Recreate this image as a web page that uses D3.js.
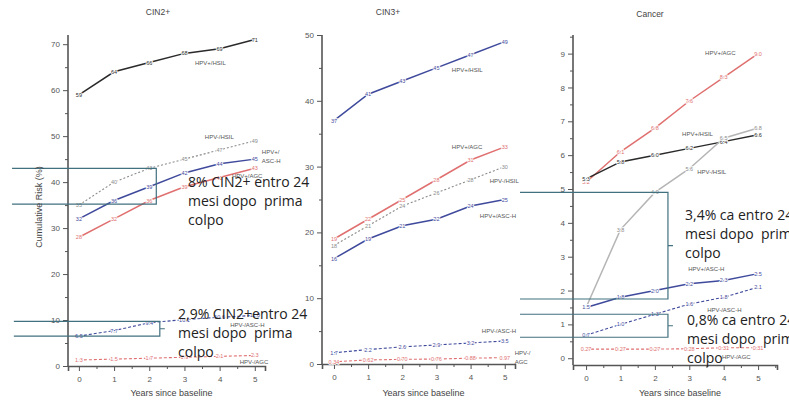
<!DOCTYPE html>
<html>
<head>
<meta charset="utf-8">
<script src="https://cdn.jsdelivr.net/npm/d3@7"></script>
<style>
  body { margin: 0; background: #fff; }
  svg { display: block; font-family: "Liberation Sans", Arial, sans-serif; }
  .note { font-family: "Open Sans", sans-serif; font-size: 14px; fill: #222; white-space: pre; }
</style>
</head>
<body>
<div id="chart"></div>
<script>
const years = [0, 1, 2, 3, 4, 5];

// CIN2+
const cin2PosHsil = [59, 64, 66, 68, 69, 71];
const cin2NegHsil = [35, 40, 43, 45, 47, 49];
const cin2PosAscH = [32, 36, 39, 42, 44, 45];
const cin2PosAgc  = [28, 32, 36, 39, 41, 43];
const cin2NegAscH = [6.5, 7.7, 9.4, 10.1, 10.6, 11.0];
const cin2NegAgc  = [1.3, 1.5, 1.7, 1.9, 2.1, 2.3];
const cin2Ticks = [0, 10, 20, 30, 40, 50, 60, 70];

// CIN3+
const cin3PosHsil = [37, 41, 43, 45, 47, 49];
const cin3PosAgc  = [19, 22, 25, 28, 31, 33];
const cin3NegHsil = [18, 21, 24, 26, 28, 30];
const cin3PosAscH = [16, 19, 21, 22, 24, 25];
const cin3NegAscH = [1.7, 2.2, 2.6, 2.9, 3.2, 3.5];
const cin3NegAgc  = [0.34, 0.62, 0.70, 0.76, 0.88, 0.97];
const cin3Ticks = [0, 10, 20, 30, 40, 50];

// Cancer
const cancPosAgc  = [5.2, 6.1, 6.8, 7.6, 8.3, 9.0];
const cancPosHsil = [5.3, 5.8, 6.0, 6.2, 6.4, 6.6];
const cancNegHsil = [1.5, 3.8, 4.9, 5.6, 6.5, 6.8];
const cancPosAscH = [1.5, 1.8, 2.0, 2.2, 2.3, 2.5];
const cancNegAscH = [0.68, 1.0, 1.3, 1.6, 1.8, 2.1];
const cancNegAgc  = [0.27, 0.27, 0.27, 0.28, 0.31, 0.31];
const cancTicks = [0, 1, 2, 3, 4, 5, 6, 7, 8, 9];

const BLACK = "#2a2a2a", BLUE = "#3f4a9c", RED = "#e07070", GREY = "#8a8a8a", LGREY = "#b5b5b5";
const NOTE = "#41707f";

const W = 789, H = 402;
const svg = d3.select("#chart").append("svg").attr("width", W).attr("height", H);

const panels = [
  {
    title: "CIN2+", titleX: 158, titleY: 15,
    x0: 68, x1: 265, xDom: [-0.31, 5.29],
    yDom: [0, 72], yRange: [366, 35], ticks: cin2Ticks, minor: 5,
    series: [
      { v: cin2PosHsil, color: BLACK, dash: null, dec: 0, name: ["HPV+/HSIL"], lx: 3.3, ly: 65.4 },
      { v: cin2NegHsil, color: GREY, dash: "2,2", dec: 0, name: ["HPV-/HSIL"], lx: 3.58, ly: 49.3 },
      { v: cin2PosAscH, color: BLUE, dash: null, dec: 0, name: ["HPV+/", "ASC-H"], lx: 5.2, ly: 46.1 },
      { v: cin2PosAgc, color: RED, dash: null, dec: 0, name: ["HPV+/AGC"], lx: 4.35, ly: 40.9 },
      { v: cin2NegAscH, color: BLUE, dash: "3,2", dec: 1, name: ["HPV-/ASC-H"], lx: 4.3, ly: 8.5 },
      { v: cin2NegAgc, color: RED, dash: "3,2", dec: 1, name: ["HPV-/AGC"], lx: 4.57, ly: 0.4 }
    ],
    boxes: [
      { hi: 43, lo: 35.2, left: -1.9, right: 2.2, tick: false },
      { hi: 9.7, lo: 6.5, left: -1.85, right: 2.3, tick: true }
    ],
    notes: [
      { x: 188, y: 187, lines: ["8% CIN2+ entro 24", "mesi dopo  prima", "colpo"] },
      { x: 178, y: 319, lines: ["2,9% CIN2+entro 24", "mesi dopo  prima", "colpo"] }
    ]
  },
  {
    title: "CIN3+", titleX: 388, titleY: 15,
    x0: 322, x1: 515, xDom: [-0.35, 5.3],
    yDom: [0, 50], yRange: [364, 35], ticks: cin3Ticks, minor: 5,
    series: [
      { v: cin3PosHsil, color: BLUE, dash: null, dec: 0, name: ["HPV+/HSIL"], lx: 3.45, ly: 44.4 },
      { v: cin3PosAgc, color: RED, dash: null, dec: 0, name: ["HPV+/AGC"], lx: 3.45, ly: 32.7 },
      { v: cin3NegHsil, color: GREY, dash: "2,2", dec: 0, name: ["HPV-/HSIL"], lx: 4.56, ly: 27.5 },
      { v: cin3PosAscH, color: BLUE, dash: null, dec: 0, name: ["HPV+/ASC-H"], lx: 4.27, ly: 22.2 },
      { v: cin3NegAscH, color: BLUE, dash: "3,2", dec: 1, name: ["HPV-/ASC-H"], lx: 4.33, ly: 4.7 },
      { v: cin3NegAgc, color: RED, dash: "3,2", dec: 2, name: ["HPV-/", "AGC"], lx: 5.29, ly: 1.4 }
    ],
    boxes: [], notes: []
  },
  {
    title: "Cancer", titleX: 650, titleY: 17,
    x0: 573, x1: 777, xDom: [-0.38, 5.55],
    yDom: [-0.2, 9.55], yRange: [365, 35], ticks: cancTicks, minor: 0.5,
    series: [
      { v: cancPosAgc, color: RED, dash: null, dec: 1, name: ["HPV+/AGC"], lx: 3.46, ly: 8.96 },
      { v: cancPosHsil, color: BLACK, dash: null, dec: 1, name: ["HPV+/HSIL"], lx: 2.79, ly: 6.57 },
      { v: cancNegHsil, color: LGREY, dash: null, dec: 1, name: ["HPV-/HSIL"], lx: 3.23, ly: 5.44 },
      { v: cancPosAscH, color: BLUE, dash: null, dec: 1, name: ["HPV+/ASC-H"], lx: 2.97, ly: 2.57 },
      { v: cancNegAscH, color: BLUE, dash: "3,2", dec: 1, name: ["HPV-/ASC-H"], lx: 3.52, ly: 1.36 },
      { v: cancNegAgc, color: RED, dash: "3,2", dec: 2, name: ["HPV-/AGC"], lx: 3.95, ly: -0.03 }
    ],
    boxes: [
      { hi: 4.9, lo: 1.75, left: -1.92, right: 2.38, tick: true },
      { hi: 1.3, lo: 0.62, left: -1.92, right: 2.38, tick: true }
    ],
    notes: [
      { x: 685, y: 220, lines: ["3,4% ca entro 24", "mesi dopo  prima", "colpo"] },
      { x: 687, y: 325, lines: ["0,8% ca entro 24", "mesi dopo  prima", "colpo"] }
    ]
  }
];

panels.forEach(p => {
  const x = d3.scaleLinear().domain(p.xDom).range([p.x0, p.x1]);
  const y = d3.scaleLinear().domain(p.yDom).range(p.yRange);
  const g = svg.append("g");
  const yBase = p.yRange[0];

  // axes
  const minorY = d3.range(p.ticks[0], p.yDom[1], p.minor).filter(t => !p.ticks.includes(t));
  g.append("g").attr("transform", `translate(${p.x0},0)`)
    .call(d3.axisLeft(y).tickValues(minorY).tickSize(3).tickFormat(""))
    .call(a => a.select(".domain").remove());
  const ya = g.append("g").attr("transform", `translate(${p.x0},0)`)
    .call(d3.axisLeft(y).tickValues(p.ticks).tickSize(5).tickPadding(3).tickFormat(d3.format("d")));
  ya.select(".domain").attr("d", `M0,${yBase}V${p.yRange[1]}`);

  const minorX = d3.range(-0.5, 5.6, 1).filter(t => t > p.xDom[0] && t < p.xDom[1]);
  g.append("g").attr("transform", `translate(0,${yBase})`)
    .call(d3.axisBottom(x).tickValues(minorX).tickSize(3).tickFormat(""))
    .call(a => a.select(".domain").remove());
  g.append("g").attr("transform", `translate(0,${yBase})`)
    .call(d3.axisBottom(x).tickValues(years).tickSize(5).tickPadding(5).tickFormat(d3.format("d")));

  g.selectAll(".domain").attr("stroke", "#555").attr("stroke-width", 1.6);
  g.selectAll(".tick line").attr("stroke", "#555");
  g.selectAll(".tick text").attr("fill", "#555").style("font-size", "8px");

  g.append("text").attr("x", p.titleX).attr("y", p.titleY).attr("text-anchor", "middle")
    .style("font-size", "8.5px").attr("fill", "#444").text(p.title);
  g.append("text").attr("x", (p.x0 + p.x1) / 2 + 5).attr("y", 396).attr("text-anchor", "middle")
    .style("font-size", "9px").attr("fill", "#444").text("Years since baseline");

  // lines
  const line = d3.line().x((d, i) => x(years[i])).y(d => y(d));
  p.series.forEach(s => {
    g.append("path").datum(s.v)
      .attr("d", line).attr("fill", "none")
      .attr("stroke", s.color).attr("stroke-width", s.dash ? 1.1 : 1.5)
      .attr("stroke-dasharray", s.dash);
  });
  p.series.forEach(s => {
    g.append("g").selectAll("text").data(s.v).join("text")
      .attr("x", (d, i) => x(years[i])).attr("y", d => y(d) + 2)
      .attr("text-anchor", "middle").style("font-size", "5.5px")
      .attr("fill", s.color === LGREY ? GREY : s.color)
      .attr("stroke", "#fff").attr("stroke-width", 1.6).attr("paint-order", "stroke")
      .text(d => d.toFixed(s.dec));
    g.append("g").selectAll("text").data(s.name).join("text")
      .attr("x", x(s.lx)).attr("y", (d, i) => y(s.ly) + i * 9)
      .style("font-size", "6px").attr("fill", "#555").text(d => d);
  });

  // annotation brackets
  p.boxes.forEach(b => {
    const r = x(b.right), t = y(b.hi), bt = y(b.lo);
    g.append("path")
      .attr("d", `M${x(b.left)},${t}H${r}V${bt}H${x(b.left)}` + (b.tick ? `M${r},${(t + bt) / 2}h5` : ""))
      .attr("fill", "none").attr("stroke", NOTE).attr("stroke-width", 1.2);
  });
  p.notes.forEach(n => {
    svg.append("g").selectAll("text").data(n.lines).join("text")
      .attr("class", "note").attr("x", n.x).attr("y", (d, i) => n.y + i * 19)
      .text(d => d);
  });
});

svg.append("text")
  .attr("transform", "translate(42,207) rotate(-90)")
  .attr("text-anchor", "middle").style("font-size", "9px").attr("fill", "#444")
  .text("Cumulative Risk (%)");
</script>
</body>
</html>
